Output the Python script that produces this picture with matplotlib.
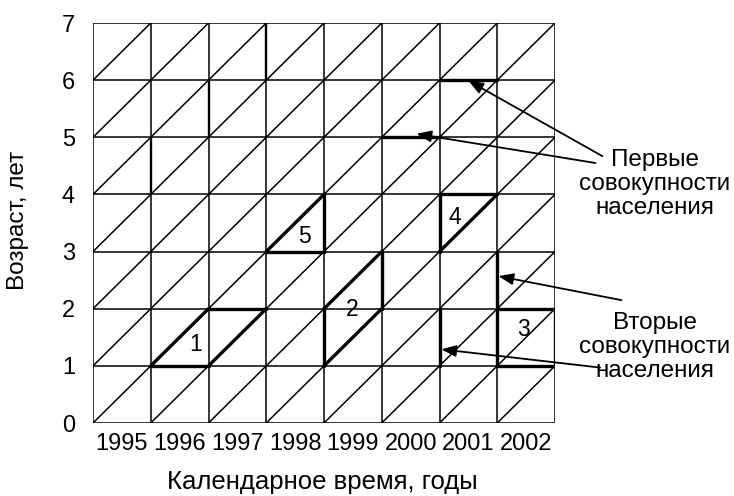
import matplotlib
matplotlib.use("Agg")
import matplotlib.pyplot as plt
from matplotlib.collections import LineCollection

plt.rcParams['font.family'] = ['Liberation Sans', 'DejaVu Sans']

# ---- data ----
years = [1995, 1996, 1997, 1998, 1999, 2000, 2001, 2002]
year_labels = [str(y) for y in years]
ages = [0, 1, 2, 3, 4, 5, 6, 7]
age_labels = [str(a) for a in ages]

# thick highlighted segments: (year0, age0, year1, age1)
thick_segments = [
    # 1
    (1996, 1, 1997, 1), (1996, 1, 1997, 2), (1997, 2, 1998, 2), (1997, 1, 1998, 2),
    # 2
    (1999, 1, 1999, 2), (1999, 1, 2000, 2), (1999, 2, 2000, 3), (2000, 2, 2000, 3),
    # 3
    (2002, 2, 2003, 2), (2003, 1, 2003, 2), (2002, 1, 2003, 1), (2002, 1, 2002, 3),
    # 4
    (2001, 3, 2001, 4), (2001, 4, 2002, 4), (2001, 3, 2002, 4),
    # 5
    (1998, 3, 1999, 4), (1998, 3, 1999, 3), (1999, 3, 1999, 4),
    # pointed segments
    (2001, 6, 2002, 6), (2000, 5, 2001, 5), (2001, 1, 2001, 2),
]
medium_segments = [(1996, 4, 1996, 5), (1997, 5, 1997, 6), (1998, 6, 1998, 7)]

labels_txt = ["1", "2", "3", "4", "5"]
labels_x = [1996.77, 1999.48, 2002.45, 2001.27, 1998.67]
labels_y = [1.37, 1.98, 1.63, 3.60, 3.26]

first_text = "Первые\nсовокупности\nнаселения"
first_tips = [(2001.50, 5.99), (2000.60, 5.06)]
first_tails = [(2003.82, 4.67), (2003.70, 4.55)]
first_pos = (2004.73, 4.18)

second_text = "Вторые\nсовокупности\nнаселения"
second_tips = [(2002.02, 2.57), (2001.03, 1.29)]
second_tails = [(2004.15, 2.15), (2003.78, 0.97)]
second_pos = (2004.73, 1.33)

# ---- figure ----
fig = plt.figure(figsize=(7.34, 4.96), dpi=100)
ax = fig.add_axes([93/734, (496-423)/496, (555-93)/734, (423-23)/496])

x0, x1 = years[0], years[-1] + 1
y0, y1 = ages[0], ages[-1]

grid = []
for x in range(x0, x1 + 1):
    grid.append([(x, y0), (x, y1)])
for y in ages:
    grid.append([(x0, y), (x1, y)])
for x in range(x0, x1):
    for y in range(y0, y1):
        grid.append([(x, y), (x + 1, y + 1)])
ax.add_collection(LineCollection(grid, colors='black', linewidths=1.1))

ax.add_collection(LineCollection([[(a, b), (c, d)] for a, b, c, d in medium_segments],
                                 colors='black', linewidths=1.7))
ax.add_collection(LineCollection([[(a, b), (c, d)] for a, b, c, d in thick_segments],
                                 colors='black', linewidths=2.4, capstyle='round'))

for t, x, y in zip(labels_txt, labels_x, labels_y):
    ax.text(x, y, t, fontsize=16.5, ha='center', va='center', color='black')

ax.set_xlim(x0, x1)
ax.set_ylim(y0, y1)
ax.set_xticks([y + 0.5 for y in years])
ax.set_xticklabels(year_labels)
ax.set_yticks(ages)
ax.set_yticklabels(age_labels)
ax.tick_params(axis='both', length=0, labelsize=17)
ax.tick_params(axis='x', pad=7)
ax.tick_params(axis='y', pad=13)
for s in ax.spines.values():
    s.set_visible(False)

fig.text(322/734, 1 - 482/496, "Календарное время, годы", fontsize=18.5,
         ha='center', va='center')
fig.text(18/734, 1 - 220/496, "Возраст, лет", fontsize=17.5, rotation=90,
         ha='center', va='center')

for tips, tails, pos, txt in [(first_tips, first_tails, first_pos, first_text),
                              (second_tips, second_tails, second_pos, second_text)]:
    ax.text(pos[0], pos[1], txt, fontsize=17.5, ha='center', va='center',
            linespacing=1.13, clip_on=False)
    for tip, tail in zip(tips, tails):
        ax.annotate("", xy=tip, xytext=tail, xycoords='data', textcoords='data',
                    annotation_clip=False,
                    arrowprops=dict(arrowstyle='-|>,head_length=0.9,head_width=0.35',
                                    color='black', lw=1.3, shrinkA=0, shrinkB=0))

fig.savefig("out.png", dpi=100)
